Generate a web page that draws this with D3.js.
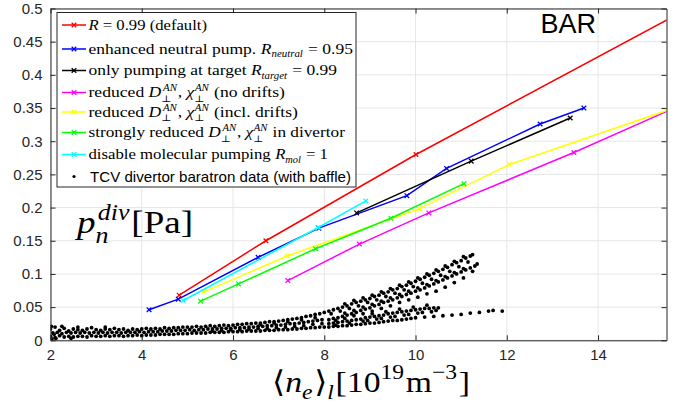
<!DOCTYPE html>
<html><head><meta charset="utf-8">
<script src="https://cdn.jsdelivr.net/npm/d3@7"></script>
<style>
body{margin:0;background:#fff}
svg{display:block}
text{white-space:pre}
</style>
</head><body>
<svg id="c" width="689" height="408"></svg>
<script>
// ---------- data ----------
const xTicks = [2, 4, 6, 8, 10, 12, 14];
const xTickLabels = ["2", "4", "6", "8", "10", "12", "14"];
const yTicks = [0, 0.05, 0.1, 0.15, 0.2, 0.25, 0.3, 0.35, 0.4, 0.45, 0.5];
const yTickLabels = ["0", "0.05", "0.1", "0.15", "0.2", "0.25", "0.3", "0.35", "0.4", "0.45", "0.5"];

const seriesColors = ["#ff0000", "#0000ff", "#000000", "#ff00ff", "#ffff00", "#00ff00", "#00ffff"];

const redX = [4.82, 6.72, 10.01, 16.0];
const redY = [0.068, 0.150, 0.280, 0.501];
const blueX = [4.16, 4.80, 6.55, 7.88, 9.81, 10.68, 12.73, 13.69];
const blueY = [0.046, 0.062, 0.125, 0.169, 0.218, 0.259, 0.326, 0.350];
const blackX = [8.71, 11.22, 13.39];
const blackY = [0.192, 0.270, 0.335];
const magentaX = [7.20, 8.77, 10.29, 13.47, 16.0];
const magentaY = [0.090, 0.145, 0.192, 0.283, 0.360];
const yellowX = [5.36, 7.19, 10.08, 12.06, 16.0];
const yellowY = [0.073, 0.127, 0.198, 0.265, 0.358];
const greenX = [5.29, 6.12, 7.81, 9.46, 11.06];
const greenY = [0.059, 0.085, 0.138, 0.184, 0.236];
const cyanX = [4.91, 7.87, 8.91];
const cyanY = [0.060, 0.170, 0.210];

// TCV divertor baratron data (with baffle)
const tcvPoints = [
// dense low-density band, upper edge
[2.0,.017],[2.1,.020],[2.2,.015],[2.3,.018],[2.4,.014],[2.5,.017],[2.6,.016],[2.7,.015],[2.8,.017],[2.9,.019],
[3.0,.016],[3.1,.015],[3.2,.017],[3.3,.016],[3.4,.018],[3.5,.016],[3.6,.017],[3.7,.015],[3.8,.017],[3.9,.016],
[4.0,.017],[4.1,.018],[4.2,.017],[4.3,.018],[4.4,.017],[4.5,.019],[4.6,.018],[4.7,.019],[4.8,.019],[4.9,.020],
[5.0,.020],[5.1,.020],[5.2,.021],[5.3,.020],[5.4,.021],[5.5,.022],[5.6,.021],[5.7,.022],[5.8,.023],[5.9,.022],
[6.0,.023],[6.1,.024],[6.2,.024],[6.3,.025],[6.4,.025],[6.5,.026],[6.6,.026],[6.7,.027],[6.8,.028],[6.9,.028],
[7.0,.029],[7.1,.030],[7.2,.031],[7.3,.032],[7.4,.033],[7.5,.034],[7.6,.036],[7.7,.037],[7.8,.039],[7.9,.040],[8.0,.042],
// band, middle
[2.05,.011],[2.15,.012],[2.25,.010],[2.35,.012],[2.45,.011],[2.55,.012],[2.65,.011],[2.75,.012],[2.85,.011],[2.95,.012],
[3.05,.011],[3.15,.012],[3.25,.011],[3.35,.012],[3.45,.012],[3.55,.011],[3.65,.012],[3.75,.012],[3.85,.012],[3.95,.013],
[4.05,.012],[4.15,.013],[4.25,.013],[4.35,.013],[4.45,.014],[4.55,.014],[4.65,.014],[4.75,.015],[4.85,.015],[4.95,.015],
[5.05,.016],[5.15,.015],[5.25,.016],[5.35,.016],[5.45,.017],[5.55,.017],[5.65,.017],[5.75,.018],[5.85,.018],[5.95,.018],
[6.05,.019],[6.15,.019],[6.25,.019],[6.35,.020],[6.45,.020],[6.55,.021],[6.65,.021],[6.75,.022],[6.85,.022],[6.95,.023],
[7.05,.023],[7.15,.024],[7.25,.025],[7.35,.025],[7.45,.026],[7.55,.027],[7.65,.028],[7.75,.029],[7.85,.030],[7.95,.031],
// band, lower edge
[2.0,.006],[2.1,.004],[2.2,.007],[2.3,.005],[2.4,.006],[2.5,.005],[2.6,.006],[2.7,.006],[2.8,.005],[2.9,.007],
[3.0,.006],[3.1,.006],[3.2,.007],[3.3,.006],[3.4,.007],[3.5,.007],[3.6,.006],[3.7,.007],[3.8,.007],[3.9,.008],
[4.0,.007],[4.1,.008],[4.2,.008],[4.3,.008],[4.4,.009],[4.5,.009],[4.6,.009],[4.7,.009],[4.8,.010],[4.9,.010],
[5.0,.010],[5.1,.011],[5.2,.011],[5.3,.011],[5.4,.011],[5.5,.012],[5.6,.012],[5.7,.012],[5.8,.012],[5.9,.013],
[6.0,.013],[6.1,.013],[6.2,.013],[6.3,.014],[6.4,.014],[6.5,.014],[6.6,.014],[6.7,.015],[6.8,.015],[6.9,.015],
[7.0,.016],[7.1,.016],[7.2,.016],[7.3,.017],[7.4,.017],[7.5,.018],[7.6,.018],[7.7,.019],[7.8,.019],[7.9,.020],[8.0,.020],
// band filler and stray points
[5.55,.014],[5.75,.015],[5.95,.016],[6.15,.016],[6.35,.017],[6.55,.018],[6.75,.018],[6.95,.019],[7.15,.020],[7.35,.021],
[7.55,.022],[7.75,.024],[7.95,.025],[6.6,.024],[6.9,.026],[7.2,.028],[7.5,.031],[7.8,.034],
[2.02,.021],[2.08,.009],[2.12,.003],[2.25,.021],[2.6,.020],[3.2,.020],[2.03,.002],[2.45,.003],
// upper branch
[8.1,.044],[8.2,.046],[8.3,.048],[8.4,.050],[8.5,.052],[8.6,.055],[8.7,.057],[8.8,.059],[8.9,.061],[9.0,.063],
[9.1,.066],[9.2,.068],[9.3,.071],[9.4,.073],[9.5,.076],[9.6,.078],[9.7,.081],[9.8,.083],[9.9,.086],[10.0,.089],
[10.1,.092],[10.2,.095],[10.3,.098],[10.4,.101],[10.5,.104],[10.6,.107],[10.7,.110],[10.8,.114],[10.9,.117],[11.0,.120],
[11.1,.124],[11.2,.127],[11.25,.129],
[8.15,.040],[8.35,.044],[8.55,.048],[8.75,.052],[8.95,.057],[9.15,.061],[9.35,.066],[9.55,.071],[9.75,.076],[9.95,.081],
[10.15,.086],[10.35,.092],[10.55,.098],[10.75,.104],[10.95,.111],[11.15,.118],
[8.45,.055],[8.65,.060],[8.85,.064],[9.05,.068],[9.25,.073],[9.45,.078],[9.65,.083],[9.85,.088],[10.05,.094],[10.25,.100],
[10.45,.106],[10.65,.112],[10.85,.119],[11.05,.126],
// middle branch
[8.1,.031],[8.2,.033],[8.3,.034],[8.4,.036],[8.5,.038],[8.6,.040],[8.7,.042],[8.8,.045],[8.9,.047],[9.0,.049],
[9.1,.052],[9.2,.054],[9.3,.057],[9.4,.059],[9.5,.061],[9.6,.064],[9.7,.066],[9.8,.069],[9.9,.071],[10.0,.074],
[10.1,.076],[10.2,.079],[10.3,.082],[10.4,.085],[10.5,.088],[10.6,.091],[10.7,.094],[10.8,.097],[10.9,.100],[11.0,.103],
[11.1,.106],[11.2,.109],[11.3,.112],[11.35,.115],
[8.25,.030],[8.45,.033],[8.65,.037],[8.85,.040],[9.05,.044],[9.25,.048],[9.45,.052],[9.65,.057],[9.85,.061],[10.05,.065],
[10.25,.070],[10.45,.074],[10.65,.080],[10.85,.087],[11.05,.094],[11.25,.104],
[8.45,.041],[8.65,.045],[8.85,.050],[9.05,.054],[9.25,.059],[9.45,.064],[9.65,.069],[9.85,.074],[10.05,.079],[10.25,.084],
[10.45,.090],[10.65,.096],[10.85,.102],[11.05,.108],
// lower-middle cluster
[8.1,.025],[8.2,.026],[8.3,.027],[8.4,.028],[8.5,.029],[8.6,.030],[8.7,.031],[8.8,.032],[8.9,.034],[9.0,.035],
[9.1,.036],[9.2,.037],[9.3,.038],[9.4,.040],[9.5,.041],[9.6,.042],[9.7,.043],[9.8,.044],[9.9,.045],[10.0,.046],
[10.1,.047],[10.2,.048],[10.3,.048],[10.4,.049],[10.5,.049],
[8.25,.023],[8.55,.026],[8.85,.029],[9.15,.032],[9.45,.035],[9.75,.038],[10.05,.041],[10.35,.043],
[8.95,.030],[9.25,.033],[9.55,.036],[9.85,.039],[10.15,.042],[10.45,.045],
[9.05,.040],[9.35,.043],[9.65,.047],[9.95,.050],[10.25,.053],
// lower branch
[8.1,.020],[8.2,.021],[8.3,.021],[8.4,.022],[8.5,.022],[8.6,.023],[8.7,.024],[8.8,.024],[8.9,.025],[9.0,.026],
[9.1,.026],[9.2,.027],[9.3,.028],[9.4,.029],[9.5,.030],[9.6,.030],[9.7,.031],[9.8,.032],[9.9,.033],[10.0,.034],
[10.2,.035],[10.4,.036],[10.6,.037],[10.8,.038],[11.0,.039],[11.2,.041],[11.4,.042],[11.6,.044],[11.7,.045],[11.9,.044]
];

// ---------- layout ----------
const svg = d3.select("#c");
const L = 50.5, R = 666.5, T = 8.5, B = 340.3;
const x = d3.scaleLinear().domain([2, 15.5]).range([L, R]);
const y = d3.scaleLinear().domain([0, 0.5]).range([B, T]);
const axisColor = "#262626";
const serif = "'Liberation Serif', 'DejaVu Serif', serif";
const sans = "'Liberation Sans', Arial, sans-serif";

// grid
const grid = svg.append("g");
grid.selectAll(".gx").data(xTicks).enter().append("line")
  .attr("x1", d => x(d)).attr("x2", d => x(d)).attr("y1", T).attr("y2", B)
  .attr("stroke", "#e6e6e6").attr("stroke-width", 1);
grid.selectAll(".gy").data(yTicks).enter().append("line")
  .attr("y1", d => y(d)).attr("y2", d => y(d)).attr("x1", L).attr("x2", R)
  .attr("stroke", "#e6e6e6").attr("stroke-width", 1);

// clip
svg.append("clipPath").attr("id", "clip").append("rect")
  .attr("x", L).attr("y", T).attr("width", R - L).attr("height", B - T);
const plot = svg.append("g").attr("clip-path", "url(#clip)");

// scatter
plot.append("g").selectAll("circle").data(tcvPoints).enter().append("circle")
  .attr("cx", d => x(d[0])).attr("cy", d => y(d[1])).attr("r", 1.9).attr("fill", "#000");

// lines
const series = [
  [redX, redY], [blueX, blueY], [blackX, blackY], [magentaX, magentaY],
  [yellowX, yellowY], [greenX, greenY], [cyanX, cyanY]
];
const lineGen = d3.line().x(d => x(d[0])).y(d => y(d[1]));
function marker(g, cx, cy, color) {
  const s = 2.3;
  g.append("path").attr("d", `M${cx - s},${cy - s}L${cx + s},${cy + s}M${cx - s},${cy + s}L${cx + s},${cy - s}`)
    .attr("stroke", color).attr("stroke-width", 1.3).attr("fill", "none");
}
series.forEach((s, i) => {
  const pts = s[0].map((v, j) => [v, s[1][j]]);
  plot.append("path").datum(pts).attr("d", lineGen).attr("fill", "none")
    .attr("stroke", seriesColors[i]).attr("stroke-width", 1.5);
  const mg = plot.append("g");
  pts.forEach(p => { if (p[0] <= 15.5) marker(mg, x(p[0]), y(p[1]), seriesColors[i]); });
});

// axes
function styleAxis(g) {
  g.selectAll("path,line").attr("stroke", axisColor);
  g.selectAll("text").attr("fill", axisColor).style("font-family", sans).style("font-size", "15px");
}
svg.append("g").attr("transform", `translate(0,${B})`)
  .call(d3.axisBottom(x).tickValues(xTicks).tickFormat((d, i) => xTickLabels[i]).tickSizeInner(-5).tickSizeOuter(0).tickPadding(9))
  .call(styleAxis);
svg.append("g").attr("transform", `translate(0,${T})`)
  .call(d3.axisTop(x).tickValues(xTicks).tickFormat("").tickSizeInner(-5).tickSizeOuter(0))
  .call(styleAxis);
svg.append("g").attr("transform", `translate(${L},0)`)
  .call(d3.axisLeft(y).tickValues(yTicks).tickFormat((d, i) => yTickLabels[i]).tickSizeInner(-5).tickSizeOuter(0).tickPadding(8))
  .call(styleAxis);
svg.append("g").attr("transform", `translate(${R},0)`)
  .call(d3.axisRight(y).tickValues(yTicks).tickFormat("").tickSizeInner(-5).tickSizeOuter(0))
  .call(styleAxis);
svg.selectAll(".domain").attr("stroke", axisColor).attr("stroke-width", 1);

// ---------- math text helper ----------
function mathText(g, x0, y0, parts, fs, opt) {
  const o = Object.assign({ small: 0.7, sup: 0.42, sub: 0.22, subStack: 0.32 }, opt || {});
  let cx = x0;
  const small = fs * o.small;
  const add = (t, xx, yy, size, it) => g.append("text").attr("x", xx).attr("y", yy)
    .style("font-family", serif).style("font-size", size + "px").style("font-style", it ? "italic" : "normal")
    .attr("fill", "#000").text(t);
  parts.forEach(p => {
    if (p.t !== undefined) {
      const n = add(p.t, cx, y0, fs, p.i);
      cx += n.node().getComputedTextLength();
    } else {
      let w = 0;
      if (p.sup !== undefined) {
        const n = add(p.sup, cx + (p.supDx || 0), y0 - fs * o.sup, small, p.supI !== false);
        w = Math.max(w, n.node().getComputedTextLength() + (p.supDx || 0));
      }
      if (p.sub !== undefined) {
        const n = add(p.sub, cx, y0 + fs * (p.sup !== undefined ? o.subStack : o.sub), small, p.subI !== false);
        w = Math.max(w, n.node().getComputedTextLength());
      }
      cx += w + fs * 0.05;
    }
  });
  return cx - x0;
}
// stretch a group horizontally so that its content spans [x0, x1]
function fitTo(g, x0, x1, w) {
  const k = (x1 - x0) / w;
  g.attr("transform", `translate(${x0},0) scale(${k},1) translate(${-x0},0)`);
}

// ---------- legend ----------
const lg = svg.append("g");
lg.append("rect").attr("x", 57).attr("y", 12.5).attr("width", 299).attr("height", 174.5)
  .attr("fill", "#fff").attr("stroke", axisColor).attr("stroke-width", 1);
const DAN = [{ t: "D", i: 1 }, { sup: "AN", sub: "\u22A5", subI: false, supDx: 1.5 }, { t: ", " }, { t: "\u03C7", i: 1 }, { sup: "AN", sub: "\u22A5", subI: false, supDx: 0.5 }];
const legendLabels = [
  [{ t: "R", i: 1 }, { t: " = 0.99 (default)" }],
  [{ t: "enhanced neutral pump. " }, { t: "R", i: 1 }, { sub: "neutral" }, { t: " = 0.95" }],
  [{ t: "only pumping at target " }, { t: "R", i: 1 }, { sub: "target" }, { t: " = 0.99" }],
  [{ t: "reduced " }, ...DAN, { t: " (no drifts)" }],
  [{ t: "reduced " }, ...DAN, { t: " (incl. drifts)" }],
  [{ t: "strongly reduced " }, ...DAN, { t: " in divertor" }],
  [{ t: "disable molecular pumping " }, { t: "R", i: 1 }, { sub: "mol" }, { t: " = 1" }]
];
const legendY = [25, 49, 70.5, 92.5, 112, 132.5, 154.5, 176.5];
const legendRight = [207, 353, 337, 285, 298, 345, 328];
legendLabels.forEach((parts, i) => {
  const ly = legendY[i];
  lg.append("line").attr("x1", 62).attr("x2", 86).attr("y1", ly).attr("y2", ly)
    .attr("stroke", seriesColors[i]).attr("stroke-width", 1.5);
  marker(lg, 74, ly, seriesColors[i]);
  const tg = lg.append("g");
  const w = mathText(tg, 88.5, ly + 5, parts, 15.5, { small: 0.62, sup: 0.4, subStack: 0.27 });
  fitTo(tg, 88.5, legendRight[i], w);
});
lg.append("circle").attr("cx", 74).attr("cy", legendY[7]).attr("r", 1.6).attr("fill", "#000");
lg.append("text").attr("x", 90).attr("y", legendY[7] + 5.5).style("font-family", sans).style("font-size", "15px")
  .attr("textLength", 261).attr("lengthAdjust", "spacingAndGlyphs")
  .attr("fill", "#000").text("TCV divertor baratron data (with baffle)");

// ---------- title & axis labels ----------
svg.append("text").attr("x", 596).attr("y", 33).attr("text-anchor", "end")
  .style("font-family", sans).style("font-size", "27px").attr("fill", "#000").text("BAR");

const yl = svg.append("g");
const yw = mathText(yl, 77, 233, [{ t: "p", i: 1 }, { sup: "div", sub: "n", supDx: 2 }, { t: "[Pa]" }], 32);
fitTo(yl, 77, 193, yw);

const xl = svg.append("g");
const xw = mathText(xl, 272, 392, [{ t: "\u27E8" }, { t: "n", i: 1 }, { sub: "e" }, { t: "\u27E9" }, { sub: "l" }, { t: "[10" }, { sup: "19", supI: false }, { t: "m" }, { sup: "\u22123", supI: false }, { t: "]" }], 30);
fitTo(xl, 272, 470, xw);
</script>
</body></html>
